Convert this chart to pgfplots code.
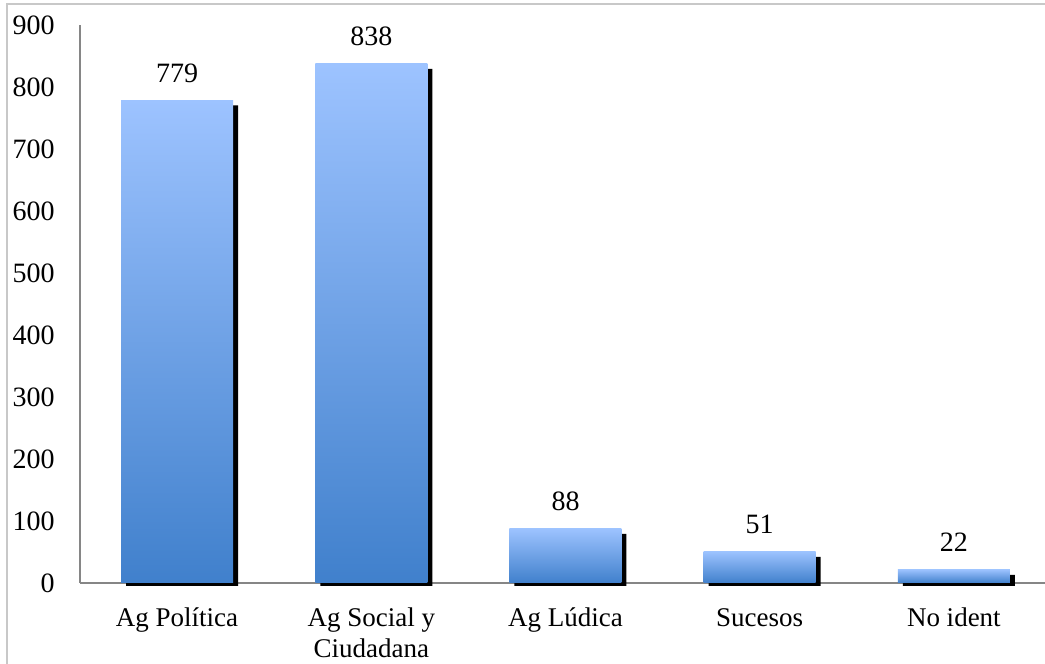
\documentclass[border=0pt]{standalone}
\usepackage{pgfplots}
\pgfplotsset{compat=1.18}
\usepackage{fontspec}
\setmainfont{Liberation Serif}
\definecolor{bartop}{RGB}{157,195,255}
\definecolor{barbot}{RGB}{64,128,204}
\definecolor{axgray}{RGB}{134,134,134}
\definecolor{framegray}{RGB}{200,200,200}
\begin{document}
\fontsize{13}{15.5}\selectfont
\begin{tikzpicture}
\begin{axis}[
  at={(0,0)}, anchor=south west,
  scale only axis, width=485.5pt, height=279pt,
  xmin=-0.5, xmax=4.5, ymin=0, ymax=900,
  clip=false,
  axis x line*=bottom, axis y line*=left,
  axis line style={axgray, line width=0.6pt},
  ytick={0,100,...,900},
  xtick={0,1,2,3,4},
  xticklabels={{\strut Ag Política},{\strut Ag Social y\\Ciudadana},{\strut Ag Lúdica},{\strut Sucesos},{\strut No ident}},
  major tick length=0pt,
  /pgf/number format/assume math mode=true,
  xticklabel style={font=\fontsize{13.5}{15.5}\selectfont},
  yticklabel style={font=\fontsize{14}{16}\selectfont},
  yticklabel style={anchor=east, inner sep=0pt, xshift=-12.5pt},
  xticklabel style={anchor=north, inner sep=0pt, align=center, yshift=-10.6pt},
  shadowbar/.style={ybar, fill=black, draw=none, bar width=56pt, bar shift=0pt, xshift=2.5pt, yshift=-1.5pt},
  mainbar/.style={ybar, draw=none, top color=bartop, bottom color=barbot, bar width=56pt, bar shift=0pt,
    nodes near coords,
    every node near coord/.append style={anchor=south, inner sep=0pt, yshift=8.5pt, font=\fontsize{14}{16}\selectfont, text=black}},
]
\addplot[shadowbar] coordinates {(0,775) (1,834) (2,84) (3,47) (4,18)};
\addplot[mainbar] coordinates {(0,779)};
\addplot[mainbar] coordinates {(1,838)};
\addplot[mainbar] coordinates {(2,88)};
\addplot[mainbar] coordinates {(3,51)};
\addplot[mainbar] coordinates {(4,22)};
\end{axis}
\draw[framegray, line width=0.8pt] (-36.5pt,-60pt) -- (-36.5pt,289.5pt) -- (530pt,289.5pt);
\pgfresetboundingbox
\path (-40pt,-40.5pt) rectangle (482.5pt,291.5pt);
\end{tikzpicture}
\end{document}
